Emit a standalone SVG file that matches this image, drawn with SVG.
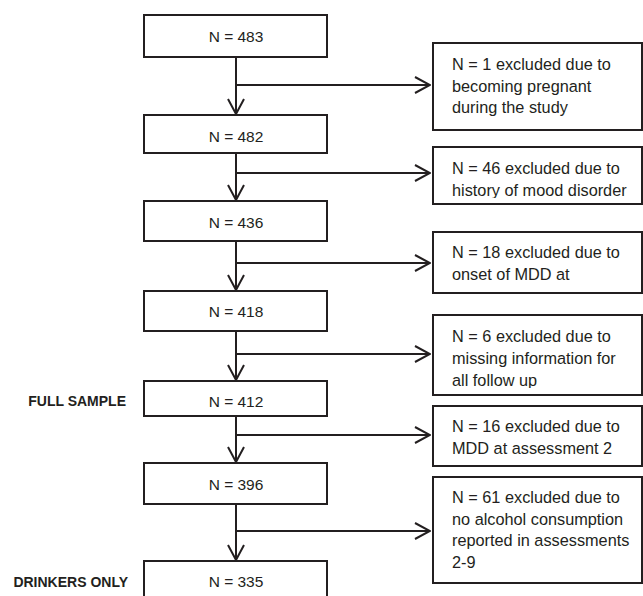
<svg xmlns="http://www.w3.org/2000/svg" width="643" height="596" viewBox="0 0 643 596">
<style>
.box{fill:#fff;stroke:#231f20;stroke-width:2}
.t{font-family:"Liberation Sans",Arial,sans-serif;font-size:15.5px;fill:#231f20}
.c{text-anchor:middle}
.r{font-size:16.3px}
.lab{font-family:"Liberation Sans",Arial,sans-serif;font-size:14px;font-weight:bold;fill:#231f20;text-anchor:end}
.ln{fill:none;stroke:#231f20;stroke-width:2;marker-end:url(#ah)}
</style>
<defs>
<marker id="ah" markerUnits="userSpaceOnUse" viewBox="0 0 17 18" refX="16" refY="9" markerWidth="17" markerHeight="18" orient="auto">
<path d="M1,1 L16,9 L1,17" fill="none" stroke="#231f20" stroke-width="2"/>
</marker>
<clipPath id="cB"><rect x="433" y="147" width="210" height="51"/></clipPath>
<clipPath id="cD"><rect x="433" y="315" width="210" height="73"/></clipPath>
</defs>
<g id="connectors">
<path class="ln" d="M236,57 V114"/>
<path class="ln" d="M236,85 H430"/>
<path class="ln" d="M236,153 V200"/>
<path class="ln" d="M236,173 H430"/>
<path class="ln" d="M236,241 V290"/>
<path class="ln" d="M236,263 H430"/>
<path class="ln" d="M236,331 V380"/>
<path class="ln" d="M236,354 H430"/>
<path class="ln" d="M236,416 V462"/>
<path class="ln" d="M236,435 H430"/>
<path class="ln" d="M236,504 V560"/>
<path class="ln" d="M236,531 H430"/>
</g>
<g id="n483"><rect class="box" x="144" y="15" width="183" height="42"/><text class="t c" x="236" y="41.5">N = 483</text></g>
<g id="n482"><rect class="box" x="144" y="115" width="183" height="38"/><text class="t c" x="236" y="141.5">N = 482</text></g>
<g id="n436"><rect class="box" x="144" y="201" width="183" height="40"/><text class="t c" x="236" y="227.5">N = 436</text></g>
<g id="n418"><rect class="box" x="144" y="291" width="183" height="40"/><text class="t c" x="236" y="316.5">N = 418</text></g>
<g id="n412"><rect class="box" x="144" y="381" width="183" height="35"/><text class="t c" x="236" y="406.5">N = 412</text></g>
<g id="n396"><rect class="box" x="144" y="463" width="183" height="41"/><text class="t c" x="236" y="490">N = 396</text></g>
<g id="n335"><rect class="box" x="144" y="561" width="183" height="45"/><text class="t c" x="236" y="586.5">N = 335</text></g>
<g id="lab-full"><text class="lab" x="126" y="406">FULL SAMPLE</text></g>
<g id="lab-drink"><text class="lab" x="128" y="587">DRINKERS ONLY</text></g>
<g id="exA"><rect class="box" x="433" y="43" width="209" height="87"/>
<text class="t r" x="452" y="69.5">N = 1 excluded due to</text>
<text class="t r" x="452" y="91.5">becoming pregnant</text>
<text class="t r" x="452" y="113">during the study</text></g>
<g id="exB"><rect class="box" x="433" y="147" width="209" height="57"/>
<g clip-path="url(#cB)"><text class="t r" x="452" y="173.5">N = 46 excluded due to</text>
<text class="t r" x="452" y="196">history of mood disorder</text></g></g>
<g id="exC"><rect class="box" x="433" y="232" width="209" height="61"/>
<text class="t r" x="452" y="258">N = 18 excluded due to</text>
<text class="t r" x="452" y="280">onset of MDD at</text></g>
<g id="exD"><rect class="box" x="433" y="315" width="209" height="80"/>
<g clip-path="url(#cD)"><text class="t r" x="452" y="341.5">N = 6 excluded due to</text>
<text class="t r" x="452" y="363.5">missing information for</text>
<text class="t r" x="452" y="385.5">all follow up</text></g></g>
<g id="exE"><rect class="box" x="433" y="406" width="209" height="60"/>
<text class="t r" x="452" y="431.5">N = 16 excluded due to</text>
<text class="t r" x="452" y="453.5">MDD at assessment 2</text></g>
<g id="exF"><rect class="box" x="433" y="477" width="209" height="106"/>
<text class="t r" x="452" y="502.5">N = 61 excluded due to</text>
<text class="t r" x="452" y="524.5">no alcohol consumption</text>
<text class="t r" x="452" y="546">reported in assessments</text>
<text class="t r" x="452" y="568">2-9</text></g>
</svg>
